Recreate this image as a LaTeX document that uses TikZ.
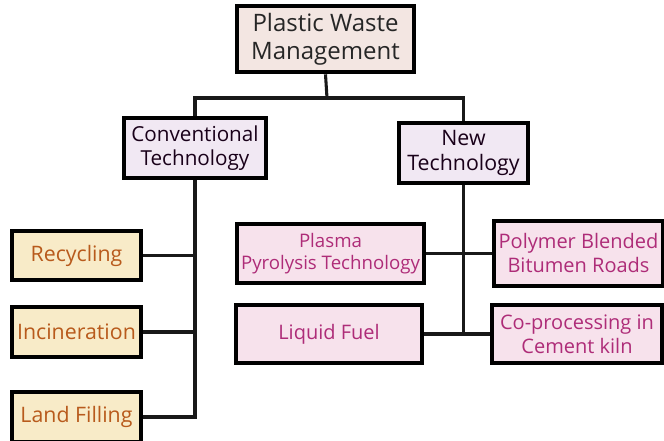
\documentclass[tikz,border=0pt]{standalone}
\usepackage{fontspec}
\setmainfont{Open Sans}
\usepackage{xcolor}
\usepackage{tikz}
\usetikzlibrary{positioning}

\definecolor{headfill}{HTML}{F3E6E2}
\definecolor{techfill}{HTML}{F1E8F3}
\definecolor{oldfill}{HTML}{F8EBC8}
\definecolor{newfill}{HTML}{F7E2EC}
\definecolor{oldtext}{HTML}{B85A1C}
\definecolor{newtext}{HTML}{AE2C78}

\begin{document}
\begin{tikzpicture}[x=0.75pt,y=-0.75pt,
  box/.style={draw=black,line width=3pt,align=center,inner sep=1pt},
  head/.style={box,fill=headfill,text=black!85,font=\fontsize{18}{21}\selectfont,minimum width=133pt,minimum height=50pt},
  tech/.style={box,fill=techfill,text=black!80!violet,font=\fontsize{15.5}{18}\selectfont,minimum height=45pt},
  oldway/.style={box,fill=oldfill,text=oldtext,font=\fontsize{16}{19}\selectfont,minimum width=97pt,minimum height=37pt},
  newway/.style={box,fill=newfill,text=newtext,font=\fontsize{15}{18}\selectfont,minimum height=44pt},
  link/.style={line width=2.3pt,black!90}]
\useasboundingbox (0,0) rectangle (664,441);

\node[head]                        (pwm)  at (325.5,39)  {Plastic Waste\\Management};
\node[tech,minimum width=106.5pt]  (conv) at (195,148)   {Conventional\\Technology};
\node[tech,minimum width=97pt,font=\fontsize{16}{19}\selectfont] (newt) at (463.5,153) {New\\Technology};

\node[oldway] (recy) at (76.5,255.5) {Recycling};
\node[oldway] (inci) at (76.5,332)   {Incineration};
\node[oldway] (land) at (76.5,417)   {Land Filling};

\node[newway,minimum width=140pt,font=\fontsize{14}{17}\selectfont] (plas) at (330.5,253.5) {Plasma\\Pyrolysis Technology};
\node[newway,minimum width=127pt,minimum height=49pt] (poly) at (578.5,253.5) {Polymer Blended\\Bitumen Roads};
\node[newway,minimum width=139.5pt] (fuel) at (329,334) {Liquid Fuel};
\node[newway,minimum width=127.5pt] (cpro) at (577,334) {Co-processing in\\Cement kiln};

\coordinate (hub) at (327,98);

\draw[link] (pwm.south) -- (hub);
\draw[link] (conv.north) |- (hub) -| (newt.north);
\draw[link] (conv.south) |- (land.east);
\draw[link] (recy.east) -- (recy.east -| conv.south);
\draw[link] (inci.east) -- (inci.east -| conv.south);
\draw[link] (newt.south) -- (newt.south |- fuel.east);
\draw[link] (plas.east) -- (poly.west);
\draw[link] (fuel.east) -- (cpro.west);

\end{tikzpicture}
\end{document}
